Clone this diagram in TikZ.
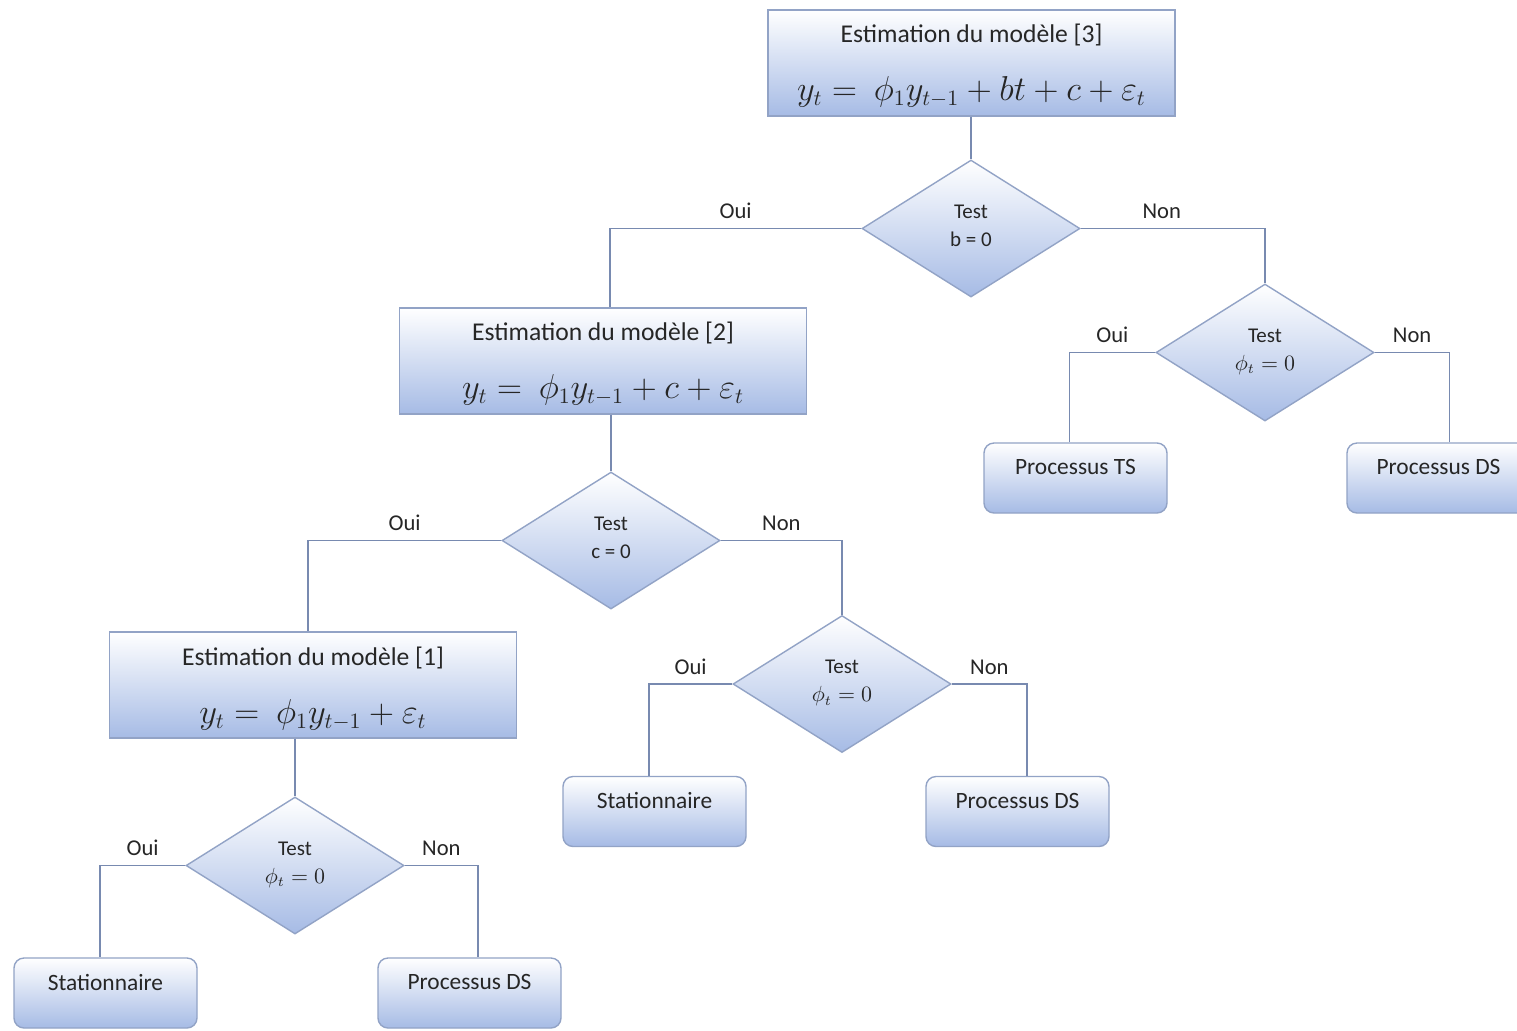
\documentclass[tikz,border=0pt]{standalone}
\usepackage{fontspec}
\setmainfont{Carlito}
\usetikzlibrary{shapes.geometric,calc}
\definecolor{edgeblue}{RGB}{146,163,198}
\definecolor{fillblue}{RGB}{166,187,229}
\definecolor{linkblue}{RGB}{120,138,176}
\definecolor{ink}{RGB}{38,38,38}
\tikzset{
  shaded box/.style={draw=edgeblue, line width=0.7pt, top color=white, bottom color=fillblue},
  model/.style={shaded box, minimum width=203.5pt, minimum height=53pt, inner sep=0pt},
  test/.style={shaded box, diamond, minimum width=109pt, minimum height=68.5pt, inner sep=0pt,
    align=center, font=\fontsize{10.5}{12.5}\selectfont, text=ink, text depth=3pt},
  leaf/.style={shaded box, rounded corners=5pt, minimum width=91.5pt, minimum height=35pt,
    inner sep=0pt, font=\fontsize{11.7}{14}\selectfont, text=ink},
  link/.style={draw=linkblue, line width=0.6pt},
  ans/.style={font=\fontsize{11.3}{13}\selectfont, text=ink, above=4.5pt, inner sep=0pt},
  caption/.style={font=\fontsize{12.8}{15}\selectfont, text=ink, inner sep=0pt},
  eq/.style={font=\fontsize{15.9}{19}\selectfont, text=ink, inner sep=0pt},
}
\newcommand{\leaftext}[1]{\raisebox{11pt}{#1}}
\begin{document}
\begin{tikzpicture}[x=0.5pt, y=-0.5pt]
  \useasboundingbox (0,0) rectangle (1517,1030);
  \clip (0,0) rectangle (1517,1030);
  \fill[white] (0,0) rectangle (1517,1030);

  % model boxes
  \node[model] (b3) at (971.5,63) {};
  \node[caption] (b3cap) at ($(b3.center)+(0,-28)$) {Estimation du modèle [3]};
  \node[eq] (b3eq) at ($(b3.center)+(0,29)$) {$y_t =\ \phi_1 y_{t-1} + bt + c + \varepsilon_t$};

  \node[model] (b2) at (603,361) {};
  \node[caption] (b2cap) at ($(b2.center)+(0,-28)$) {Estimation du modèle [2]};
  \node[eq] (b2eq) at ($(b2.center)+(0,29)$) {$y_t =\ \phi_1 y_{t-1} + c + \varepsilon_t$};

  \node[model] (b1) at (313,685) {};
  \node[caption] (b1cap) at ($(b1.center)+(0,-27)$) {Estimation du modèle [1]};
  \node[eq] (b1eq) at ($(b1.center)+(0,30)$) {$y_t =\ \phi_1 y_{t-1} + \varepsilon_t$};

  % tests
  \node[test] (d3) at (971,228.5) {Test\\[1.5pt]b = 0};
  \node[test] (q1) at (1265,352.5) {Test\\[1.5pt]$\phi_t = 0$};
  \node[test] (dc) at (611,540.5) {Test\\[1.5pt]c = 0};
  \node[test] (q2) at (842,684) {Test\\[1.5pt]$\phi_t = 0$};
  \node[test] (q3) at (295,865.5) {Test\\[1.5pt]$\phi_t = 0$};

  % outcomes
  \node[leaf] (ts)  at (1075.5,478) {\leaftext{Processus TS}};
  \node[leaf] (ds1) at (1438.5,478) {\leaftext{Processus DS}};
  \node[leaf] (st2) at (654.5,811.5) {\leaftext{Stationnaire}};
  \node[leaf] (ds2) at (1017.5,811.5) {\leaftext{Processus DS}};
  \node[leaf] (st3) at (105.5,993) {\leaftext{Stationnaire}};
  \node[leaf] (ds3) at (469.5,993) {\leaftext{Processus DS}};

  % connectors
  \draw[link] (d3.north |- b3.south) -- (d3.north);
  \draw[link] (d3.west) -| node[ans,pos=.25] (a1) {Oui} ([xshift=3.5pt]b2.north);
  \draw[link] (d3.east) -| node[ans,pos=.22] (a2) {Non} (q1.north);
  \draw[link] (q1.west) -| node[ans,pos=.25] (a3) {Oui} ([xshift=-3pt]ts.north);
  \draw[link] (q1.east) -| node[ans,pos=.25] (a4) {Non} ([xshift=5.5pt]ds1.north);

  \draw[link] (dc.north |- b2.south) -- (dc.north);
  \draw[link] (dc.west) -| node[ans,pos=.25] (a5) {Oui} ([xshift=-2.5pt]b1.north);
  \draw[link] (dc.east) -| node[ans,pos=.25] (a6) {Non} (q2.north);
  \draw[link] (q2.west) -| node[ans,pos=.25] (a7) {Oui} ([xshift=-2.75pt]st2.north);
  \draw[link] (q2.east) -| node[ans,pos=.25] (a8) {Non} ([xshift=4.75pt]ds2.north);

  \draw[link] (q3.north |- b1.south) -- (q3.north);
  \draw[link] (q3.west) -| node[ans,pos=.25] (a9) {Oui} ([xshift=-2.75pt]st3.north);
  \draw[link] (q3.east) -| node[ans,pos=.25] (a10) {Non} ([xshift=4.25pt]ds3.north);
\end{tikzpicture}
\end{document}
